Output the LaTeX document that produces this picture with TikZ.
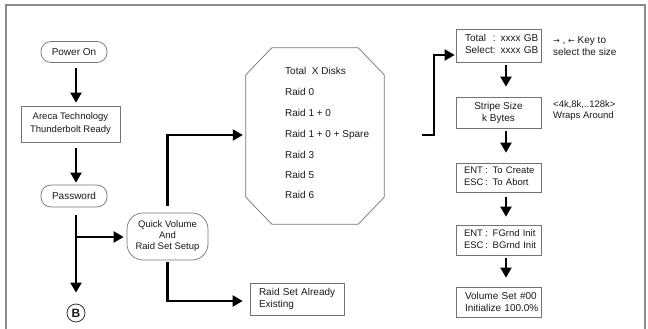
\documentclass[tikz,border=0pt]{standalone}
\usepackage{fontspec}
\setmainfont{Liberation Sans}
\newfontfamily\symfont{DejaVu Sans}
\usetikzlibrary{arrows.meta,calc}
\begin{document}
\begin{tikzpicture}[x=1pt,y=-1pt,
  every node/.style={font=\fontsize{10}{12}\selectfont, text=black!90},
  arr/.style={-{Triangle[width=11pt,length=10pt]}, line width=2.2pt, black},
  term/.style={draw=black!55, line width=0.7pt, rounded corners=10pt, inner sep=0pt},
  box/.style={draw=black!55, line width=0.7pt, inner sep=0pt, align=center},
  lbox/.style={draw=black!55, line width=0.7pt, inner sep=0pt, align=left},
  octline/.style={anchor=west, inner sep=0pt}]
\useasboundingbox (0,0) rectangle (648,329);
% frame
\draw[black!45, line width=1.6pt] (6,330) -- (6,5) -- (645,5) -- (645,330);

% left column
\node[term, minimum width=66pt, minimum height=21pt] (pwr) at (74,52) {Power On};
\node[box, minimum width=99pt, minimum height=36pt, font=\fontsize{9.5}{13}\selectfont] (are) at (70.5,124) {Areca Technology\\Thunderbolt Ready};
\node[term, minimum width=66pt, minimum height=22pt] (pass) at (74,196) {Password};
\node[draw=black!80, line width=0.8pt, circle, minimum size=18pt, inner sep=0pt, font=\fontsize{12}{12}\selectfont\bfseries] (B) at (76,313) {B};
\node[term, rounded corners=16pt, minimum width=81pt, minimum height=47pt, align=center, font=\fontsize{9.5}{11}\selectfont] (qv) at (167.5,236.5) {Quick Volume\\And\\Raid Set Setup};

% octagon
\node[minimum width=138pt, minimum height=176pt, inner sep=0pt] (oct) at (315,136) {};
\draw[black!55, line width=0.7pt] ($(oct.north west)+(26,0)$) -- ($(oct.north east)+(-26,0)$) -- ($(oct.north east)+(0,27)$) -- ($(oct.south east)+(0,-27)$) -- ($(oct.south east)+(-26,0)$) -- ($(oct.south west)+(26,0)$) -- ($(oct.south west)+(0,-27)$) -- ($(oct.north west)+(0,27)$) -- cycle;
\node[octline] (t1) at (285,71) {Total\ \ X Disks};
\node[octline] (t2) at (285,92) {Raid 0};
\node[octline] (t3) at (285,113) {Raid 1 + 0};
\node[octline] (t4) at (285,135) {Raid 1 + 0 + Spare};
\node[octline] (t5) at (285,155) {Raid 3};
\node[octline] (t6) at (285,175) {Raid 5};
\node[octline] (t7) at (285,195) {Raid 6};

\node[lbox, text width=94pt, minimum height=32pt] (raid) at (297,299) {\hspace*{9pt}Raid Set Already\\\hspace*{9pt}Existing};

% right column
\node[lbox, text width=85pt, minimum height=33pt] (tot) at (498.5,45.5) {\begin{tabular}{@{\hspace*{9pt}}l@{}l@{}}Total & : xxxx GB\\Select& : xxxx GB\end{tabular}};
\node[box, minimum width=85pt, minimum height=31pt] (str) at (498.5,112.5) {Stripe Size\\k Bytes};
\node[lbox, text width=85pt, minimum height=29pt, font=\fontsize{9.5}{12}\selectfont] (ent) at (498.5,177.5) {\begin{tabular}{@{\hspace*{8pt}}l@{\hspace{1.8pt}}l@{}}ENT & : To Create\\ESC & : To Abort\end{tabular}};
\node[lbox, text width=85pt, minimum height=30pt, font=\fontsize{9.5}{12}\selectfont] (fg) at (498.5,240) {\begin{tabular}{@{\hspace*{8pt}}l@{\hspace{1.8pt}}l@{}}ENT & : FGrnd Init\\ESC & : BGrnd Init\end{tabular}};
\node[lbox, text width=85pt, minimum height=30pt] (vol) at (498.5,302) {\hspace*{9pt}Volume Set \#00\\\hspace*{9pt}Initialize 100.0\%};

\node[anchor=west, align=left, inner sep=0pt, font=\fontsize{10}{11.5}\selectfont] (k1) at (553,46) {{\symfont\fontsize{8}{11}\selectfont →} , {\symfont\fontsize{8}{11}\selectfont ←} Key to\\select the size};
\node[anchor=west, align=left, inner sep=0pt, font=\fontsize{9.5}{11}\selectfont] (k2) at (553,111) {<4k,8k,..128k>\\Wraps Around};

% connectors
\draw[arr, shorten <=5pt, shorten >=3pt] ([xshift=2pt]pwr.south) -- ([xshift=2pt]pwr.south |- are.north);
\draw[arr, shorten <=6pt, shorten >=2pt] ([xshift=2pt]pwr.south |- are.south) -- ([xshift=2pt]pass.north);
\draw[arr, shorten <=8pt, shorten >=11pt] ([xshift=2pt]pass.south) -- (B.north);
\coordinate (br) at (76,237);
\draw[arr, shorten >=3pt] (br) -- (br -| qv.west);
\draw[arr, shorten <=7pt, shorten >=3pt] (qv.north) |- ([yshift=1pt]oct.west);
\draw[arr, shorten <=2pt, shorten >=7pt] (qv.south) |- ([yshift=-2pt]raid.west);
\coordinate (o1) at (422,135);
\draw[arr, shorten >=1pt] (o1) -- (434,135) |- ([yshift=-9.5pt]tot.west);
\draw[arr, shorten <=3pt, shorten >=10pt] ([xshift=7.5pt]tot.south) -- ([xshift=7.5pt]tot.south |- str.north);
\draw[arr, shorten <=3pt, shorten >=10pt] ([xshift=7.5pt]str.south) -- ([xshift=7.5pt]str.south |- ent.north);
\draw[arr, shorten <=5pt, shorten >=8pt] ([xshift=7.5pt]ent.south) -- ([xshift=7.5pt]ent.south |- fg.north);
\draw[arr, shorten <=3pt, shorten >=9pt] ([xshift=7.5pt]fg.south) -- ([xshift=7.5pt]fg.south |- vol.north);
\end{tikzpicture}
\end{document}
